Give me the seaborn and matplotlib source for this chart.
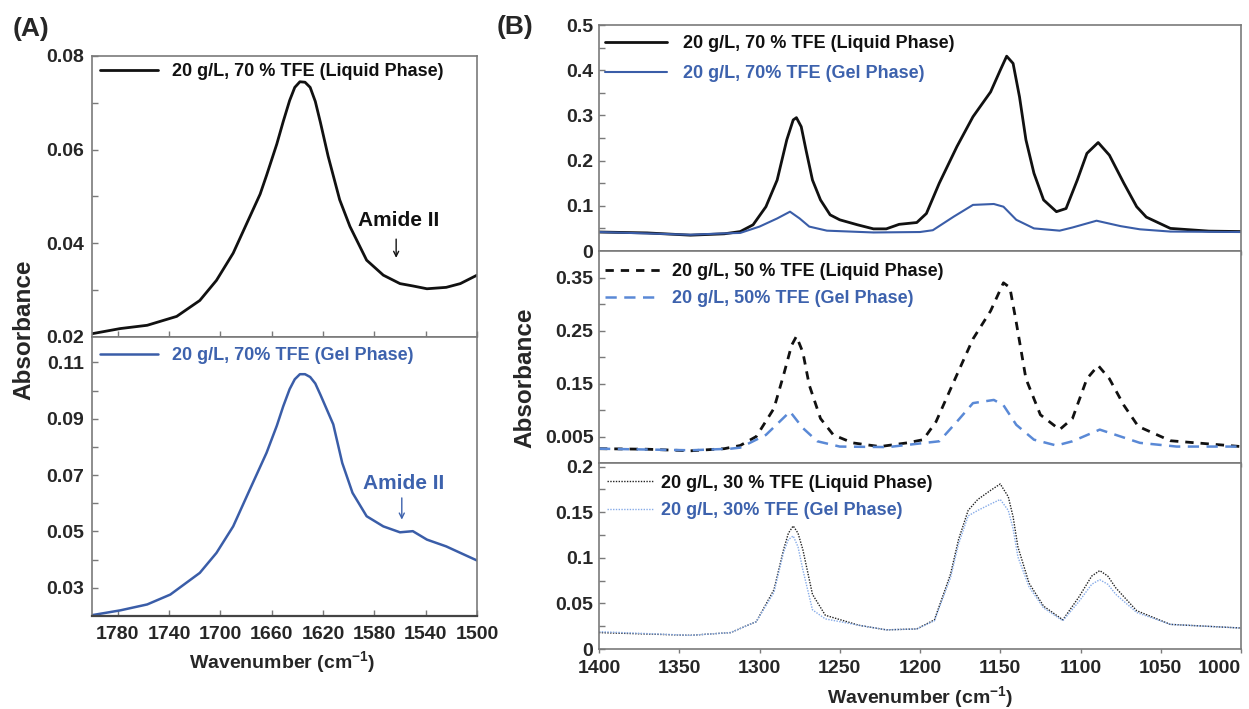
import numpy as np
import pandas as pd
import matplotlib
matplotlib.use("Agg")
import matplotlib.pyplot as plt
import seaborn as sns
from matplotlib.ticker import FixedLocator

sns.set_style("ticks")
plt.rcParams['font.family'] = ['Liberation Sans', 'DejaVu Sans']
plt.rcParams['font.weight'] = 'bold'
plt.rcParams['mathtext.default'] = 'regular'

# ---------------- Data ----------------
# Panel A: amide region
a_wn_liquid = [1800, 1778, 1757, 1734, 1716, 1703, 1690, 1677, 1669, 1664, 1656, 1651, 1646, 1642,
               1638, 1634, 1630, 1626, 1622, 1616, 1607, 1599, 1586, 1573, 1560, 1550, 1539, 1524,
               1513, 1500]
a_abs_liquid = [0.0207, 0.0218, 0.0225, 0.0244, 0.0278, 0.0321, 0.0379, 0.0457, 0.0505, 0.0545,
                0.0612, 0.0660, 0.0705, 0.0733, 0.0745, 0.0744, 0.0733, 0.0703, 0.0658, 0.0586,
                0.0493, 0.0436, 0.0364, 0.0332, 0.0314, 0.0309, 0.0303, 0.0306, 0.0314, 0.0332]
a_wn_gel = [1800, 1778, 1757, 1739, 1716, 1703, 1690, 1677, 1664, 1656, 1651, 1646, 1642, 1638,
            1634, 1630, 1626, 1622, 1612, 1605, 1597, 1586, 1573, 1560, 1550, 1539, 1524, 1513, 1500]
a_abs_gel = [0.0203, 0.0220, 0.0241, 0.0276, 0.0353, 0.0424, 0.0518, 0.0649, 0.0779, 0.0875,
             0.0944, 0.1005, 0.1040, 0.1058, 0.1058, 0.1048, 0.1025, 0.0985, 0.0880, 0.0743,
             0.0637, 0.0554, 0.0518, 0.0497, 0.0501, 0.0471, 0.0447, 0.0424, 0.0397]

# Panel B: 70 % TFE
b70_wn_liquid = [1400, 1370, 1343, 1322, 1312, 1304, 1296, 1289, 1283, 1279, 1277, 1274, 1271,
                 1267, 1262, 1256, 1250, 1239, 1229, 1221, 1213, 1202, 1196, 1188, 1177, 1167,
                 1156, 1150, 1146, 1142, 1138, 1134, 1129, 1123, 1115, 1109, 1102, 1096, 1089,
                 1082, 1073, 1065, 1059, 1044, 1020, 1000]
b70_abs_liquid = [0.042, 0.040, 0.035, 0.038, 0.043, 0.058, 0.098, 0.157, 0.246, 0.290, 0.295,
                  0.275, 0.223, 0.157, 0.113, 0.080, 0.069, 0.058, 0.049, 0.049, 0.059, 0.063,
                  0.083, 0.150, 0.231, 0.297, 0.352, 0.400, 0.431, 0.415, 0.341, 0.246, 0.172,
                  0.113, 0.087, 0.094, 0.157, 0.216, 0.240, 0.212, 0.150, 0.098, 0.075, 0.050,
                  0.044, 0.043]
b70_wn_gel = [1400, 1343, 1322, 1312, 1300, 1289, 1281, 1275, 1269, 1258, 1229, 1200, 1192, 1179,
              1167, 1154, 1148, 1140, 1129, 1113, 1105, 1090, 1075, 1063, 1044, 1000]
b70_abs_gel = [0.042, 0.036, 0.039, 0.040, 0.054, 0.072, 0.087, 0.072, 0.054, 0.045, 0.041, 0.042,
               0.046, 0.076, 0.102, 0.104, 0.098, 0.069, 0.050, 0.045, 0.052, 0.067, 0.055, 0.048,
               0.043, 0.042]

# Panel B: 50 % TFE
b50_wn_liquid = [1400, 1370, 1343, 1322, 1312, 1302, 1291, 1285, 1280, 1277, 1273, 1269, 1262,
                 1254, 1242, 1225, 1208, 1198, 1190, 1179, 1167, 1156, 1148, 1144, 1140, 1134,
                 1125, 1113, 1105, 1096, 1089, 1082, 1073, 1064, 1044, 1000]
b50_abs_liquid = [0.027, 0.026, 0.023, 0.027, 0.033, 0.050, 0.103, 0.166, 0.222, 0.239, 0.209,
                  0.147, 0.084, 0.053, 0.038, 0.031, 0.038, 0.044, 0.078, 0.153, 0.234, 0.287,
                  0.340, 0.331, 0.265, 0.159, 0.091, 0.063, 0.084, 0.159, 0.184, 0.159, 0.109,
                  0.069, 0.042, 0.031]
b50_wn_gel = [1400, 1343, 1318, 1312, 1296, 1281, 1273, 1264, 1250, 1220, 1188, 1177, 1167, 1154,
              1148, 1140, 1129, 1115, 1105, 1088, 1075, 1063, 1040, 1000]
b50_abs_gel = [0.027, 0.024, 0.027, 0.029, 0.053, 0.097, 0.066, 0.041, 0.031, 0.030, 0.041, 0.078,
               0.113, 0.119, 0.109, 0.072, 0.044, 0.033, 0.041, 0.063, 0.050, 0.038, 0.031, 0.031]

# Panel B: 30 % TFE
b30_wn = [1400, 1343, 1318, 1302, 1291, 1285, 1282, 1279, 1276, 1273, 1267, 1259, 1238, 1221, 1202,
          1191, 1181, 1176, 1170, 1164, 1156, 1150, 1145, 1142, 1139, 1132, 1123, 1111, 1101, 1093,
          1088, 1083, 1078, 1065, 1044, 1000]
b30_abs_liquid = [0.018, 0.015, 0.018, 0.030, 0.065, 0.109, 0.127, 0.135, 0.127, 0.109, 0.060,
                  0.037, 0.026, 0.021, 0.022, 0.032, 0.082, 0.120, 0.152, 0.164, 0.174, 0.181,
                  0.167, 0.145, 0.112, 0.072, 0.047, 0.032, 0.057, 0.080, 0.086, 0.080, 0.067,
                  0.042, 0.027, 0.023]
b30_abs_gel = [0.019, 0.015, 0.018, 0.030, 0.062, 0.106, 0.120, 0.124, 0.112, 0.087, 0.043,
               0.033, 0.026, 0.021, 0.022, 0.031, 0.078, 0.115, 0.146, 0.152, 0.159, 0.164,
               0.152, 0.132, 0.101, 0.068, 0.045, 0.031, 0.052, 0.071, 0.076, 0.071, 0.060,
               0.040, 0.027, 0.023]

lab_liq70 = "20 g/L, 70 % TFE (Liquid Phase)"
lab_gel70 = "20 g/L, 70% TFE (Gel Phase)"
lab_liq50 = "20 g/L, 50 % TFE (Liquid Phase)"
lab_gel50 = "20 g/L, 50% TFE (Gel Phase)"
lab_liq30 = "20 g/L, 30 % TFE (Liquid Phase)"
lab_gel30 = "20 g/L, 30% TFE (Gel Phase)"

a_xticks = [1780, 1740, 1700, 1660, 1620, 1580, 1540, 1500]
b_xticks = [1400, 1350, 1300, 1250, 1200, 1150, 1100, 1050, 1000]

# ---------------- Styling ----------------
BLACK = "#111111"
BLUE = "#3a5da8"
BLUE_TXT = "#3d62ad"
BLUE_DASH = "#5a89d6"
BLUE_DOT = "#86abe8"
SPINE = "#7a7a7a"
TICK_FS = 14
LEG_FS = 13

W, H = 1249, 709
fig = plt.figure(figsize=(W / 100, H / 100), dpi=100)


def add_ax(x0, y0, x1, y1):
    return fig.add_axes([x0 / W, 1 - y1 / H, (x1 - x0) / W, (y1 - y0) / H])


axA1 = add_ax(92, 56, 477, 337)
axA2 = add_ax(92, 337, 477, 616)
axB1 = add_ax(599, 25, 1241, 251)
axB2 = add_ax(599, 251, 1241, 463)
axB3 = add_ax(599, 463, 1241, 649)


def line(ax, x, y, **kw):
    df = pd.DataFrame({"wn": x, "ab": y})
    sns.lineplot(data=df, x="wn", y="ab", ax=ax, sort=False, estimator=None, **kw)


line(axA1, a_wn_liquid, a_abs_liquid, color=BLACK, linewidth=2.0, label=lab_liq70)
line(axA2, a_wn_gel, a_abs_gel, color=BLUE, linewidth=1.8, label=lab_gel70)

line(axB1, b70_wn_liquid, b70_abs_liquid, color=BLACK, linewidth=2.0, label=lab_liq70)
line(axB1, b70_wn_gel, b70_abs_gel, color=BLUE, linewidth=1.5, label=lab_gel70)

line(axB2, b50_wn_liquid, b50_abs_liquid, color=BLACK, linewidth=2.0, linestyle=(0, (3, 2.5)), label=lab_liq50)
line(axB2, b50_wn_gel, b50_abs_gel, color=BLUE_DASH, linewidth=1.8, linestyle=(0, (4.5, 3)), label=lab_gel50)

line(axB3, b30_wn, b30_abs_liquid, color="#222222", linewidth=1.0, linestyle=(0, (1, 1)), label=lab_liq30)
line(axB3, b30_wn, b30_abs_gel, color=BLUE_DOT, linewidth=1.0, linestyle=(0, (1, 1)), label=lab_gel30)

# Axis limits and ticks
for ax in (axA1, axA2):
    ax.set_xlim(1800, 1500)
    ax.xaxis.set_major_locator(FixedLocator(a_xticks))
for ax in (axB1, axB2, axB3):
    ax.set_xlim(1400, 1000)
    ax.xaxis.set_major_locator(FixedLocator(b_xticks))

axA1.set_ylim(0.02, 0.08)
axA1.set_yticks([0.02, 0.04, 0.06, 0.08])
axA1.set_yticklabels(["0.02", "0.04", "0.06", "0.08"])
axA1.yaxis.set_minor_locator(FixedLocator([0.03, 0.05, 0.07]))

axA2.set_ylim(0.02, 0.119)
axA2.set_yticks([0.03, 0.05, 0.07, 0.09, 0.11])
axA2.set_yticklabels(["0.03", "0.05", "0.07", "0.09", "0.11"])
axA2.yaxis.set_minor_locator(FixedLocator([0.04, 0.06, 0.08, 0.10]))

axB1.set_ylim(0, 0.5)
axB1.set_yticks([0, 0.1, 0.2, 0.3, 0.4, 0.5])
axB1.set_yticklabels(["0", "0.1", "0.2", "0.3", "0.4", "0.5"])
axB1.yaxis.set_minor_locator(FixedLocator([0.05, 0.15, 0.25, 0.35, 0.45]))

axB2.set_ylim(0, 0.40)
axB2.set_yticks([0.05, 0.15, 0.25, 0.35])
axB2.set_yticklabels(["0.005", "0.15", "0.25", "0.35"])
axB2.yaxis.set_minor_locator(FixedLocator([0.1, 0.2, 0.3]))

axB3.set_ylim(0, 0.204)
axB3.set_yticks([0, 0.05, 0.1, 0.15, 0.2])
axB3.set_yticklabels(["0", "0.05", "0.1", "0.15", "0.2"])
axB3.yaxis.set_minor_locator(FixedLocator([0.025, 0.075, 0.125, 0.175]))

for ax in (axA1, axA2, axB1, axB2, axB3):
    ax.set_xlabel("")
    ax.set_ylabel("")
    for s in ax.spines.values():
        s.set_visible(True)
        s.set_color(SPINE)
        s.set_linewidth(1.2)
    ax.tick_params(axis="y", which="major", direction="in", length=4, width=1, color=SPINE,
                   labelsize=TICK_FS, pad=6)
    ax.tick_params(axis="y", which="minor", direction="in", length=4, width=1, color=SPINE)
    for t in ax.get_yticklabels():
        t.set_fontweight("bold")

for ax in (axA1, axA2):
    ax.tick_params(axis="x", which="major", direction="in", length=4, width=1, color=SPINE,
                   labelsize=TICK_FS, pad=7)
for ax in (axB1, axB2, axB3):
    ax.tick_params(axis="x", which="major", direction="out", length=3, width=1, color=SPINE,
                   labelsize=TICK_FS, pad=5)
    ax.tick_params(axis="y", which="major", pad=4)

axA1.tick_params(axis="x", labelbottom=False)
axB1.tick_params(axis="x", labelbottom=False)
axB2.tick_params(axis="x", labelbottom=False)
for ax in (axA2, axB3):
    for t in ax.get_xticklabels():
        t.set_fontweight("bold")
axB3.get_xticklabels()[-1].set_horizontalalignment("right")
axA2.spines["bottom"].set_color("#444444")
axA2.spines["bottom"].set_linewidth(1.6)


def legend(ax, colors, x, y, hl, tp, ls):
    leg = ax.legend(loc="upper left", bbox_to_anchor=(x, y), frameon=False, borderpad=0,
                    borderaxespad=0, handlelength=hl, handletextpad=tp, labelspacing=ls,
                    prop={"size": LEG_FS, "weight": "bold"})
    for txt, c in zip(leg.get_texts(), colors):
        txt.set_color(c)
    return leg


legend(axA1, [BLACK], 0.021, 0.975, 3.2, 0.78, 0.5)
legend(axA2, [BLUE_TXT], 0.021, 0.964, 3.2, 0.78, 0.5)
legend(axB1, [BLACK, BLUE_TXT], 0.009, 0.956, 3.44, 0.89, 0.75)
legend(axB2, [BLACK, BLUE_TXT], 0.009, 0.944, 3.05, 0.7, 0.57)
legend(axB3, [BLACK, BLUE_TXT], 0.012, 0.938, 2.6, 0.43, 0.57)

# Amide II annotations
arrow_kw = dict(arrowstyle="->", lw=1.0, shrinkA=0, shrinkB=0, mutation_scale=9)
axA1.text(1561.4, 0.0448, "Amide II", ha="center", va="center", fontsize=15, fontweight="bold", color=BLACK)
axA1.annotate("", xy=(1563, 0.0369), xytext=(1563, 0.0409),
              arrowprops=dict(color=BLACK, **arrow_kw))
axA2.text(1557.5, 0.067, "Amide II", ha="center", va="center", fontsize=15, fontweight="bold", color=BLUE_TXT)
axA2.annotate("", xy=(1558.6, 0.0542), xytext=(1558.6, 0.0619),
              arrowprops=dict(color=BLUE_TXT, **arrow_kw))

# Axis labels and panel letters
fig.text(24 / W, 1 - 330 / H, "Absorbance", rotation=90, ha="center", va="center",
         fontsize=17.5, fontweight="bold")
fig.text(525 / W, 1 - 378 / H, "Absorbance", rotation=90, ha="center", va="center",
         fontsize=17.5, fontweight="bold")
fig.text(282 / W, 1 - 662 / H, "Wavenumber (cm$^{-1}$)", ha="center", va="center",
         fontsize=14, fontweight="bold")
fig.text(920 / W, 1 - 697 / H, "Wavenumber (cm$^{-1}$)", ha="center", va="center",
         fontsize=14, fontweight="bold")
fig.text(13 / W, 1 - 29 / H, "(A)", ha="left", va="center", fontsize=19, fontweight="bold")
fig.text(497 / W, 1 - 27 / H, "(B)", ha="left", va="center", fontsize=19, fontweight="bold")

fig.savefig("out.png", dpi=100)
